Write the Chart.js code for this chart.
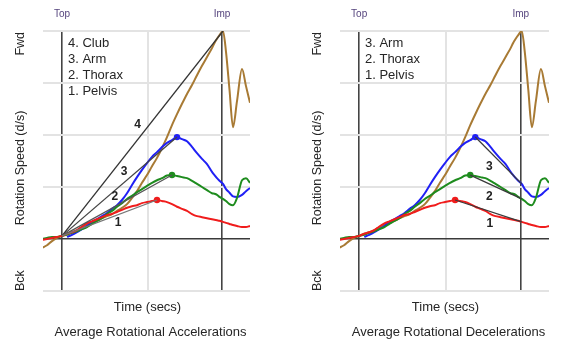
<!DOCTYPE html>
<html>
<head>
<meta charset="utf-8">
<script src="https://cdn.jsdelivr.net/npm/chart.js@4.4.1/dist/chart.umd.min.js"></script>
<style>
  body { margin: 0; background: #fff; }
  #wrap { position: relative; width: 567px; height: 343px; }
  canvas { position: absolute; top: 0; }
</style>
</head>
<body>
<div id="wrap">
  <canvas id="chartAcc" width="287" height="343" style="left:0"></canvas>
  <canvas id="chartDec" width="280" height="343" style="left:287px"></canvas>
</div>
<script>
// time in secs, Top of backswing = 0
const times = [-0.04, -0.03, -0.02, -0.01, 0, 0.01, 0.02, 0.03, 0.04, 0.05, 0.06, 0.07, 0.08, 0.09,
  0.10, 0.11, 0.12, 0.13, 0.14, 0.15, 0.16, 0.17, 0.18, 0.19, 0.20, 0.21, 0.22, 0.23, 0.24, 0.25,
  0.26, 0.27, 0.28, 0.29, 0.30, 0.305, 0.31, 0.315, 0.322, 0.328, 0.335, 0.342, 0.35, 0.36, 0.368, 0.376];

// rotation speeds (d/s)
const club = [-85, -60, -20, 10, 30, 50, 65, 85, 115, 135, 155, 175, 200, 220,
  240, 270, 300, 335, 395, 460, 540, 615, 700, 780, 875, 980, 1095, 1200, 1300, 1395,
  1480, 1575, 1665, 1750, 1835, 1885, 1925, 1960, 2000, 1800, 1435, 1075, 1325, 1635, 1470, 1310];
const arm = [null, null, null, null, null, 20, 40, 65, 95, 125, 165, 190, 220, 250,
  290, 325, 375, 440, 520, 595, 665, 730, 790, 835, 885, 925, 950, 980, 960, 940,
  885, 825, 770, 720, 645, 615, 585, 560, 530, 480, 445, 410, 405, 425, 460, 490];
const thorax = [0, 10, 20, 20, 30, 40, 60, 75, 95, 115, 145, 175, 200, 240,
  270, 310, 345, 385, 415, 450, 480, 510, 540, 565, 585, 610, 615, 605, 595, 585,
  560, 530, 500, 470, 440, 435, 425, 405, 385, 365, 335, 325, 395, 565, 585, 540];
const pelvis = [-10, 0, 10, 20, 30, 50, 65, 85, 120, 150, 170, 190, 210, 230,
  240, 260, 280, 300, 315, 325, 345, 355, 365, 375, 365, 355, 335, 310, 290, 270,
  240, 220, 210, 200, 190, 185, 180, 175, 165, 155, 145, 135, 125, 115, 115, 125];

const topTime = 0;
const midTime = 0.172;
const impTime = 0.32;
const speedMin = -500, speedMax = 2000, speedStep = 500;

const FONT = '"Liberation Sans", Arial, sans-serif';

function pts(vals) {
  return times.map((t, i) => ({ x: t, y: vals[i] }));
}
function peakIndex(vals) {
  let best = 0;
  vals.forEach((v, i) => { if (v !== null && v > vals[best]) best = i; });
  return best;
}
const topIdx = times.indexOf(topTime);
const impIdx = times.findIndex(t => t >= impTime);

function curve(label, vals, color, dot) {
  const pk = peakIndex(vals);
  return {
    label: label,
    data: pts(vals),
    borderColor: color,
    backgroundColor: color,
    borderWidth: 2,
    pointRadius: ctx => (dot && ctx.dataIndex === pk) ? 3.2 : 0,
    pointBorderWidth: 0,
    cubicInterpolationMode: 'monotone'
  };
}

// straight lines from the Top value to each peak
function accLine(vals, tag, at, dy, color) {
  const pk = peakIndex(vals);
  return {
    data: [{ x: topTime, y: club[topIdx] }, { x: times[pk], y: vals[pk] }],
    borderColor: color, borderWidth: 1.3, pointRadius: 0,
    tag: tag, tagAt: at, tagDy: dy
  };
}
// straight lines from each peak down to the value at impact
function decLine(vals, tag, at, dy) {
  const pk = peakIndex(vals);
  return {
    data: [{ x: times[pk], y: vals[pk] }, { x: times[impIdx], y: vals[impIdx] }],
    borderColor: '#3a3a3a', borderWidth: 1.3, pointRadius: 0,
    tag: tag, tagAt: at, tagDy: dy
  };
}

const textPlugin = {
  id: 'texts',
  afterDraw(chart, args, opts) {
    const { ctx, chartArea: a, scales: { x, y } } = chart;
    ctx.save();
    ctx.textAlign = 'center';
    ctx.textBaseline = 'middle';

    ctx.font = '10px ' + FONT;
    ctx.fillStyle = '#56457e';
    ctx.fillText('Top', x.getPixelForValue(topTime), 14);
    ctx.fillText('Imp', x.getPixelForValue(impTime), 14);

    ctx.fillStyle = '#262626';
    ctx.font = '13px ' + FONT;
    const cx = (a.left + a.right) / 2;
    ctx.fillText('Time (secs)', cx + 1, a.bottom + 16);
    ctx.fillText(opts.caption, cx + 4, a.bottom + 41);

    ctx.font = '12.5px ' + FONT;
    const yx = a.left - 22;
    ctx.save(); ctx.translate(yx, 168); ctx.rotate(-Math.PI / 2);
    ctx.fillText('Rotation Speed (d/s)', 0, 0); ctx.restore();
    ctx.save(); ctx.translate(yx, a.top + 1); ctx.rotate(-Math.PI / 2);
    ctx.textAlign = 'right'; ctx.fillText('Fwd', 0, 0); ctx.restore();
    ctx.save(); ctx.translate(yx, a.bottom); ctx.rotate(-Math.PI / 2);
    ctx.textAlign = 'left'; ctx.fillText('Bck', 0, 0); ctx.restore();

    // legend in the top-left corner
    ctx.textAlign = 'left';
    ctx.font = '13px ' + FONT;
    opts.legend.forEach((s, i) => ctx.fillText(s, a.left + 25, 43 + i * 16));

    // numbers on the straight lines
    ctx.textAlign = 'center';
    ctx.font = 'bold 12px ' + FONT;
    ctx.fillStyle = '#222';
    chart.data.datasets.forEach(ds => {
      if (!ds.tag) return;
      const p0 = ds.data[0], p1 = ds.data[1];
      const px = x.getPixelForValue(p0.x + (p1.x - p0.x) * ds.tagAt);
      const py = y.getPixelForValue(p0.y + (p1.y - p0.y) * ds.tagAt);
      ctx.fillText(ds.tag, px, py + ds.tagDy);
    });
    ctx.restore();
  }
};

function scales() {
  return {
    x: {
      type: 'linear', min: -0.038, max: 0.376,
      afterBuildTicks: s => { s.ticks = [topTime, midTime, impTime].map(v => ({ value: v })); },
      ticks: { display: false },
      grid: {
        drawTicks: false,
        color: c => c.tick.value === midTime ? '#e3e3e3' : '#444',
        lineWidth: c => c.tick.value === midTime ? 2 : 1.6
      },
      border: { display: false }
    },
    y: {
      min: speedMin, max: speedMax,
      ticks: { display: false, stepSize: speedStep },
      grid: {
        drawTicks: false,
        color: c => c.tick.value === 0 ? '#3a3a3a' : '#e3e3e3',
        lineWidth: c => c.tick.value === 0 ? 1.6 : 2
      },
      border: { display: false }
    }
  };
}

const red = '#f01c1c', green = '#1e8c1e', blue = '#2020f5', brown = '#a87a34';

function curves() {
  return [
    curve('Pelvis', pelvis, red, true),
    curve('Thorax', thorax, green, true),
    curve('Arm', arm, blue, true),
    curve('Club', club, brown, false)
  ];
}

new Chart(document.getElementById('chartAcc'), {
  type: 'line',
  data: {
    datasets: [
      accLine(pelvis, '1', 0.59, 8, '#777'),
      accLine(thorax, '2', 0.48, -10, '#555'),
      accLine(arm, '3', 0.54, -11, '#444'),
      accLine(club, '4', 0.47, -15, '#333')
    ].concat(curves())
  },
  options: {
    responsive: false, animation: false,
    layout: { padding: { left: 43, right: 37, top: 31, bottom: 52 } },
    scales: scales(),
    plugins: {
      legend: { display: false }, tooltip: { enabled: false },
      texts: { caption: 'Average Rotational Accelerations', legend: ['4. Club', '3. Arm', '2. Thorax', '1. Pelvis'] }
    }
  },
  plugins: [textPlugin]
});

new Chart(document.getElementById('chartDec'), {
  type: 'line',
  data: {
    datasets: [
      decLine(pelvis, '1', 0.52, 12),
      decLine(thorax, '2', 0.37, 13),
      decLine(arm, '3', 0.30, 16)
    ].concat(curves())
  },
  options: {
    responsive: false, animation: false,
    layout: { padding: { left: 53, right: 18, top: 31, bottom: 52 } },
    scales: scales(),
    plugins: {
      legend: { display: false }, tooltip: { enabled: false },
      texts: { caption: 'Average Rotational Decelerations', legend: ['3. Arm', '2. Thorax', '1. Pelvis'] }
    }
  },
  plugins: [textPlugin]
});
</script>
</body>
</html>
